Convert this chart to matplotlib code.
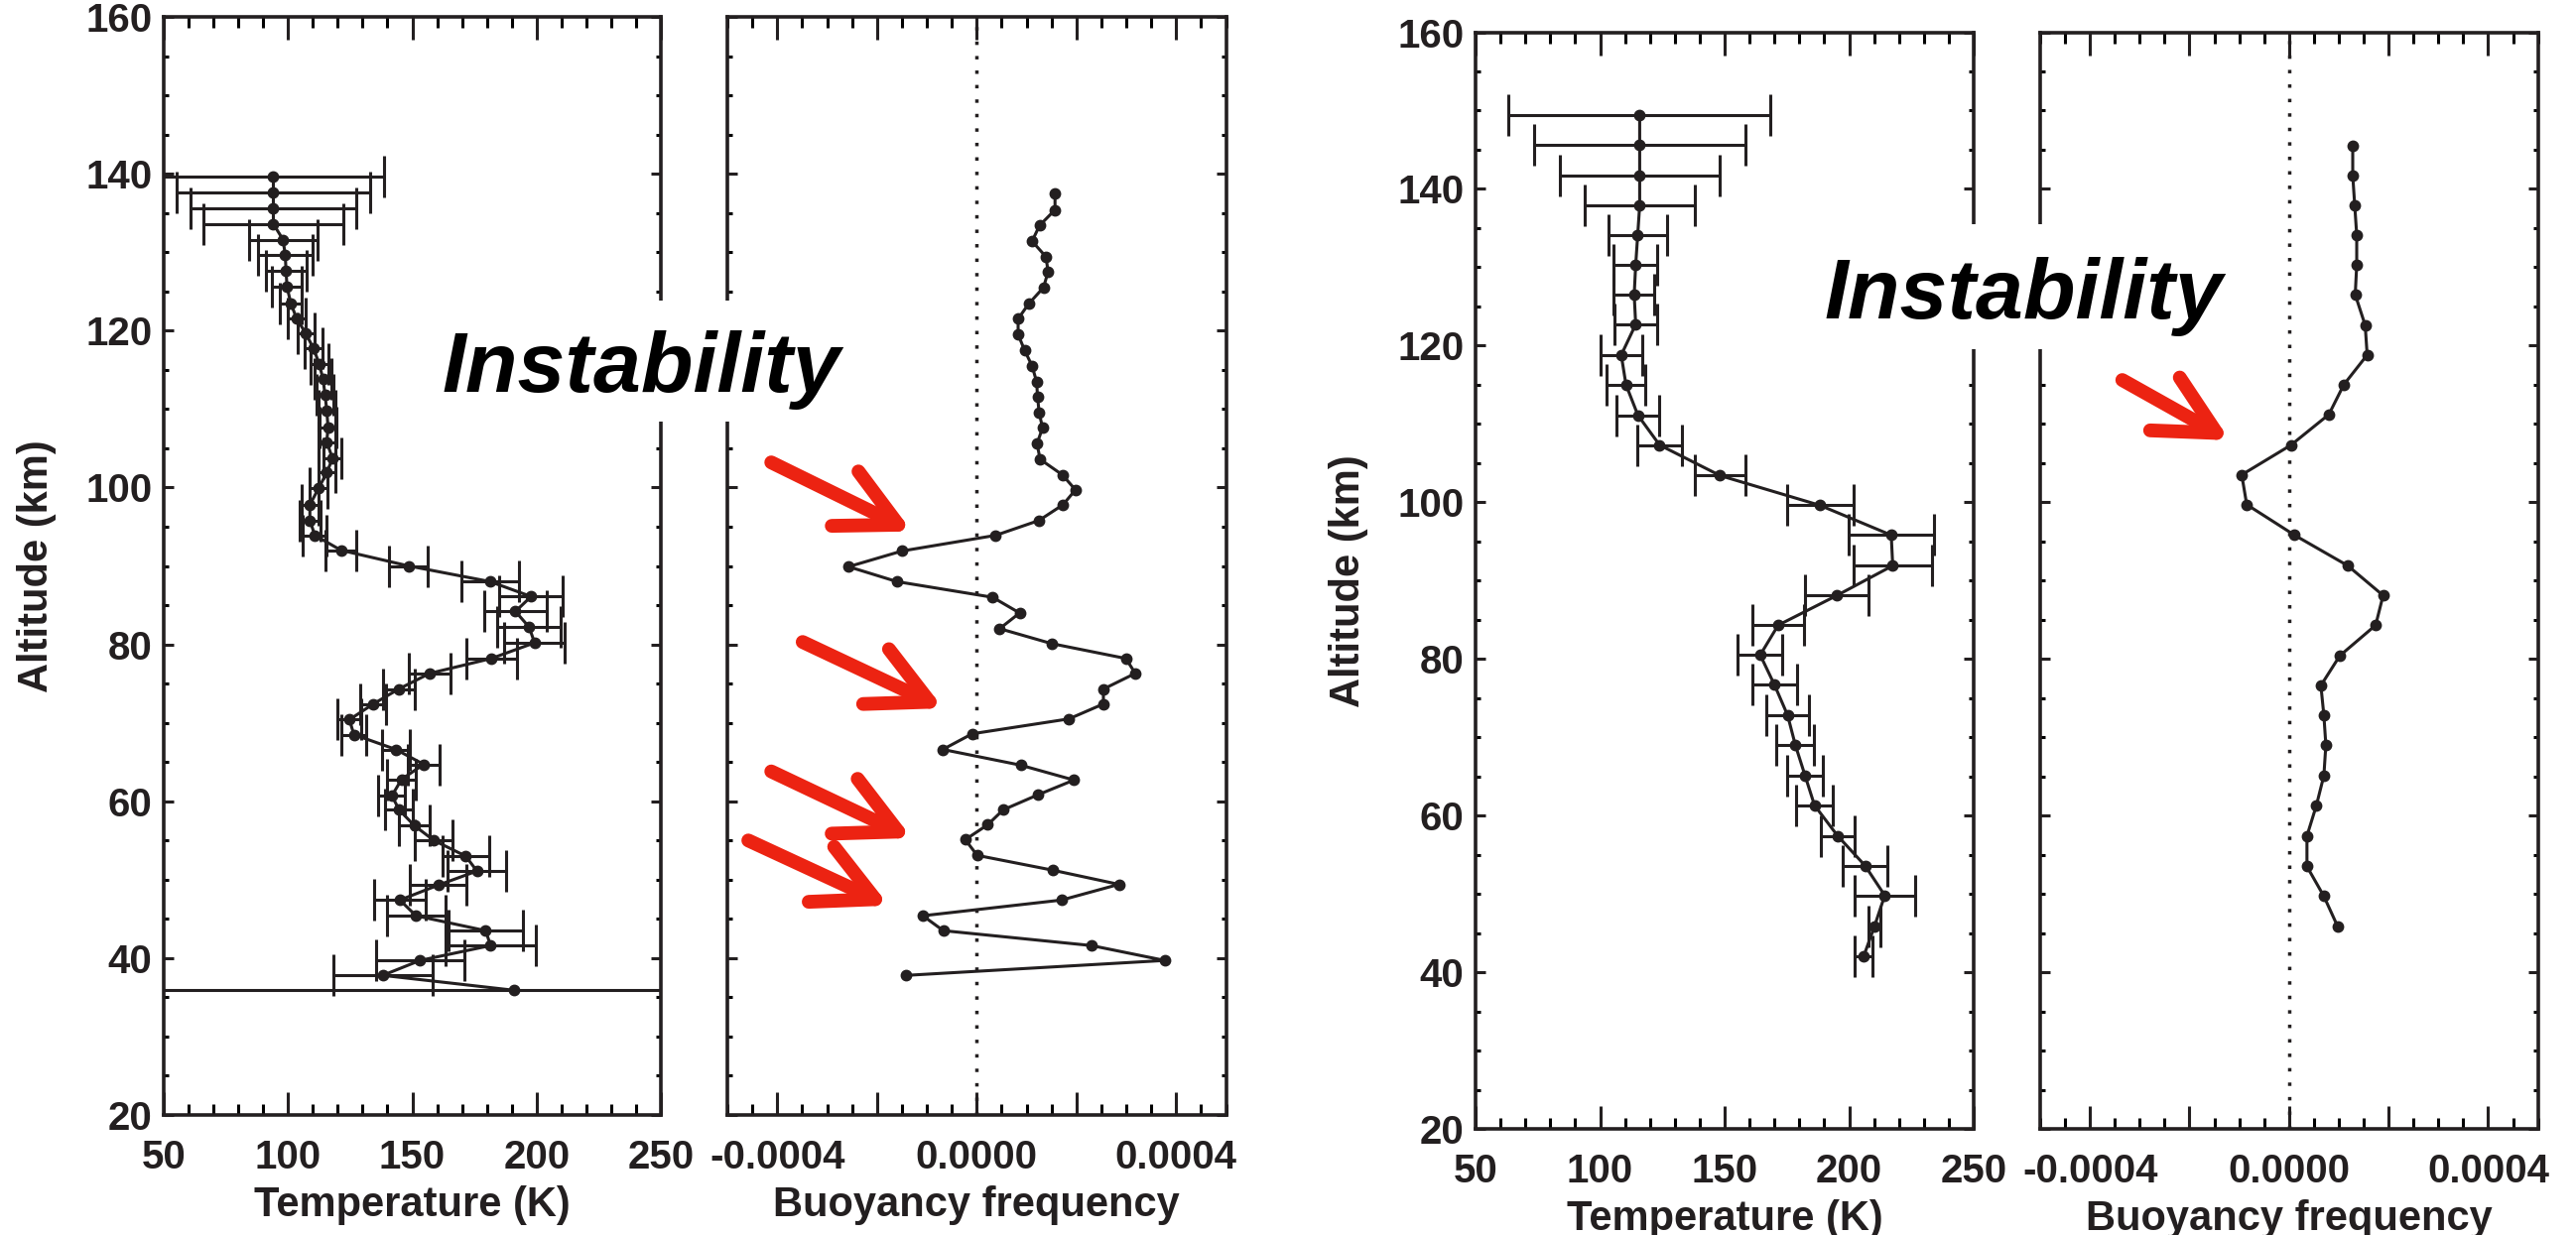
import numpy as np
import matplotlib
matplotlib.use("Agg")
import matplotlib.pyplot as plt
from matplotlib.ticker import MultipleLocator, FixedLocator, FixedFormatter
from matplotlib.patches import Rectangle

W, H = 2596, 1245
INK = "#231f20"
RED = "#ec2312"

# ---- profile 1 (left pair) ----
alt_t1 = [139.6, 137.6, 135.6, 133.6, 131.6, 129.6, 127.6, 125.6, 123.5, 121.6, 119.6, 117.7,
          115.7, 113.8, 111.8, 109.8, 107.7, 105.8, 103.7, 101.9, 99.9, 97.8, 95.8, 93.9,
          92.0, 90.0, 88.0, 86.1, 84.2, 82.2, 80.2, 78.2, 76.3, 74.3, 72.4, 70.4,
          68.5, 66.6, 64.7, 62.8, 60.7, 58.9, 56.9, 55.0, 53.0, 51.1, 49.3, 47.4,
          45.4, 43.5, 41.6, 39.7, 37.8, 35.9]
temp1 = [94.1, 94.1, 94.1, 94.1, 98.0, 98.9, 99.2, 99.6, 101.1, 103.4, 107.2, 110.3,
         112.6, 114.1, 114.9, 115.6, 116.1, 115.6, 117.9, 115.6, 112.3, 108.8, 108.8, 110.8,
         121.3, 148.5, 181.3, 197.8, 191.5, 197.0, 199.2, 181.8, 157.0, 144.5, 134.3, 124.7,
         126.5, 143.4, 154.6, 145.7, 141.8, 144.7, 150.8, 158.7, 171.5, 176.0, 160.4, 145.0,
         151.5, 179.5, 181.5, 153.1, 138.1, 190.9]
# lowest point has no error bar
terr1 = [44.5, 39.0, 33.5, 28.0, 13.7, 11.0, 8.2, 6.0, 4.4, 3.5, 3.5, 3.5,
         3.5, 3.5, 3.5, 3.5, 3.5, 3.5, 3.5, 3.5, 3.5, 3.5, 4.2, 4.8,
         6.1, 7.7, 11.6, 12.8, 12.6, 12.7, 12.2, 10.2, 8.2, 6.4, 5.3, 4.8,
         5.1, 5.7, 6.5, 5.8, 5.4, 5.6, 6.1, 7.6, 9.5, 11.8, 11.3, 10.3,
         11.8, 14.9, 18.3, 17.8, 19.9]
base1 = 35.9

alt_n1 = [137.5, 135.4, 133.4, 131.4, 129.4, 127.5, 125.5, 123.4, 121.5, 119.5, 117.5, 115.5,
          113.5, 111.6, 109.6, 107.6, 105.6, 103.6, 101.6, 99.7, 97.8, 95.8, 93.9, 91.9,
          89.9, 88.0, 86.0, 84.0, 82.0, 80.1, 78.2, 76.3, 74.3, 72.4, 70.5, 68.6,
          66.6, 64.6, 62.7, 60.8, 58.9, 57.0, 55.1, 53.1, 51.2, 49.4, 47.4, 45.4,
          43.5, 41.6, 39.7, 37.8]
buoy1 = [1.57, 1.57, 1.26, 1.11, 1.39, 1.43, 1.34, 1.04, 0.83, 0.83, 0.96, 1.11,
         1.20, 1.22, 1.25, 1.32, 1.21, 1.27, 1.72, 1.98, 1.73, 1.25, 0.38, -1.50,
         -2.57, -1.60, 0.32, 0.86, 0.46, 1.50, 2.99, 3.18, 2.54, 2.54, 1.85, -0.09,
         -0.68, 0.88, 1.95, 1.22, 0.53, 0.22, -0.23, 0.01, 1.53, 2.85, 1.70, -1.08,
         -0.67, 2.30, 3.77, -1.41]  # x 1e-4

# ---- profile 2 (right pair) ----
alt_t2 = [149.4, 145.6, 141.7, 137.9, 134.1, 130.3, 126.5, 122.7, 118.8, 115.0, 111.1, 107.3,
          103.4, 99.6, 95.8, 91.9, 88.1, 84.3, 80.5, 76.7, 72.8, 69.0, 65.1, 61.3,
          57.4, 53.6, 49.8, 45.8, 42.0]
temp2 = [115.9, 115.9, 115.9, 115.9, 115.1, 114.3, 113.7, 114.3, 108.5, 110.4, 115.2, 123.9,
         148.2, 188.3, 216.9, 217.5, 195.1, 171.5, 164.3, 170.0, 175.3, 178.4, 182.3, 186.1,
         195.4, 206.4, 214.3, 210.1, 205.8]
terr2 = [52.6, 42.5, 32.2, 22.1, 11.8, 8.8, 8.2, 8.5, 8.4, 7.8, 8.6, 8.8,
         10.0, 13.3, 17.1, 15.8, 12.8, 10.3, 9.0, 9.0, 8.5, 7.5, 7.3, 7.5,
         6.9, 8.9, 12.3, 2.3, 3.6]

alt_n2 = [145.5, 141.7, 137.9, 134.1, 130.3, 126.5, 122.6, 118.8, 115.0, 111.2, 107.3, 103.5,
          99.7, 95.8, 91.9, 88.1, 84.3, 80.4, 76.6, 72.8, 69.0, 65.1, 61.3, 57.4,
          53.5, 49.7, 45.8]
buoy2 = [1.28, 1.28, 1.32, 1.36, 1.36, 1.33, 1.53, 1.57, 1.10, 0.80, 0.04, -0.95,
         -0.85, 0.11, 1.18, 1.89, 1.74, 1.02, 0.64, 0.70, 0.74, 0.70, 0.55, 0.36,
         0.36, 0.70, 0.98]  # x 1e-4

temp_ticks = [50, 100, 150, 200, 250]
buoy_ticks = [-0.0004, -0.0002, 0.0, 0.0002, 0.0004]
buoy_labels = ["-0.0004", "", "0.0000", "", "0.0004"]

# red arrows: (tail, tip) in buoyancy-panel data coords
arrows1 = [((-4.12e-4, 103.2), (-1.30e-4, 94.4)),
           ((-3.49e-4, 80.3), (-0.67e-4, 71.85)),
           ((-4.12e-4, 63.8), (-1.30e-4, 55.3)),
           ((-4.58e-4, 55.0), (-1.76e-4, 46.7))]
arrows2 = [((-3.35e-4, 115.6), (-1.19e-4, 107.9))]

plt.rcParams["font.family"] = ["Liberation Sans", "DejaVu Sans"]
plt.rcParams["font.weight"] = "bold"
plt.rcParams["axes.labelweight"] = "bold"

fig = plt.figure(figsize=(W / 100, H / 100), dpi=100)


def px_axes(l, r, t, b):
    return fig.add_axes([l / W, 1 - b / H, (r - l) / W, (b - t) / H])


def frame(ax, temp):
    for s in ax.spines.values():
        s.set_linewidth(2.6); s.set_color(INK)
    ax.set_ylim(20, 160)
    ax.yaxis.set_major_locator(MultipleLocator(20)); ax.yaxis.set_minor_locator(MultipleLocator(5))
    if temp:
        ax.set_xlim(50, 250)
        ax.xaxis.set_major_locator(FixedLocator(temp_ticks)); ax.xaxis.set_minor_locator(MultipleLocator(10))
        ax.set_xlabel("Temperature (K)", fontsize=30, fontweight="bold", color=INK, labelpad=6.5)
        ax.set_ylabel("Altitude (km)", fontsize=30, fontweight="bold", color=INK)
        ax.yaxis.set_label_coords(-0.215, 0.5)
    else:
        ax.set_xlim(-0.0005, 0.0005)
        ax.xaxis.set_major_locator(FixedLocator(buoy_ticks))
        ax.xaxis.set_major_formatter(FixedFormatter(buoy_labels))
        ax.xaxis.set_minor_locator(MultipleLocator(0.00005))
        ax.set_xlabel("Buoyancy frequency", fontsize=30, fontweight="bold", color=INK, labelpad=6.5)
        ax.axvline(0, color=INK, lw=2.5, ls=(0, (1, 3.2)), zorder=1)
    ax.tick_params(axis="x", which="major", direction="in", length=16.5, width=2.2,
                   top=True, bottom=True, pad=17, labelsize=29, colors=INK)
    ax.tick_params(axis="x", which="minor", direction="in", length=8, width=2.2, top=True, bottom=True)
    ax.tick_params(axis="y", which="major", direction="in", length=7, width=2.2,
                   left=True, right=True, pad=8.5, labelsize=29, colors=INK, labelleft=temp)
    ax.tick_params(axis="y", which="minor", direction="in", length=3.6, width=2.2, left=True, right=True)


def temp_panel(ax, T, alt, err):
    n = len(err)
    ax.errorbar(T[:n], alt[:n], xerr=err, fmt="none", ecolor=INK, elinewidth=2.2,
                capsize=15, capthick=2.2, zorder=2)
    ax.plot(T, alt, "-o", color=INK, lw=2.2, ms=7.5, zorder=3)


def buoy_panel(ax, N, alt, arrows):
    ax.plot(np.array(N) * 1e-4, alt, "-o", color=INK, lw=2.2, ms=7.5, zorder=3)
    for tail, tip in arrows:
        ax.annotate("", xy=tip, xytext=tail, annotation_clip=False,
                    arrowprops=dict(arrowstyle="->,head_length=43,head_width=22", mutation_scale=1,
                                    lw=10, color=RED, shrinkA=0, shrinkB=0))


ax1 = px_axes(165, 666, 17, 1124)
frame(ax1, True)
temp_panel(ax1, temp1, alt_t1, terr1)
ax1.axhline(base1, color=INK, lw=2.2, zorder=2)

ax2 = px_axes(733, 1235.6, 17, 1124)
frame(ax2, False)
buoy_panel(ax2, buoy1, alt_n1, arrows1)

ax3 = px_axes(1487, 1989, 32.5, 1138)
frame(ax3, True)
temp_panel(ax3, temp2, alt_t2, terr2)

ax4 = px_axes(2056, 2557.6, 32.5, 1138)
frame(ax4, False)
buoy_panel(ax4, buoy2, alt_n2, arrows2)

# "Instability" labels sit on white boxes that cut through the panel frames
for (x0, x1, y0, y1), (tx, ty) in [((425, 865, 303, 425), (445, 395)),
                                     ((1818, 2258, 226, 352), (1838, 321))]:
    fig.add_artist(Rectangle((x0 / W, 1 - y1 / H), (x1 - x0) / W, (y1 - y0) / H,
                             transform=fig.transFigure, facecolor="white", edgecolor="none", zorder=5))
    fig.text(tx / W, 1 - ty / H, "Instability", fontsize=62, fontstyle="italic", fontweight="bold",
             color="black", ha="left", va="baseline", zorder=6)

fig.savefig("out.png", dpi=100, facecolor="white")
